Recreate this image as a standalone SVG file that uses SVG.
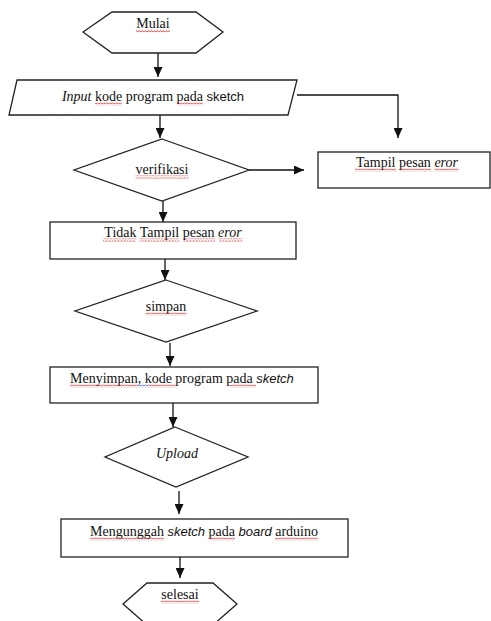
<svg xmlns="http://www.w3.org/2000/svg" width="491" height="621" viewBox="0 0 491 621">
<style>
.shape{fill:#fff;stroke:#222;stroke-width:1.3}
.conn{fill:none;stroke:#111;stroke-width:1.3}
.t{font-family:"Liberation Serif","Times New Roman",serif;font-size:14px;fill:#111}
.c{text-anchor:middle}
.i{font-style:italic}
.sans{font-family:"Liberation Sans",Arial,sans-serif;font-size:13px}
.sq{fill:url(#wv)}
.sqb{fill:url(#wvb)}
</style>
<defs>
<marker id="ah" markerUnits="userSpaceOnUse" markerWidth="10" markerHeight="9" refX="10" refY="4.5" orient="auto">
<path d="M0,0 L10,4.5 L0,9 Z" fill="#111"/>
</marker>
<pattern id="wv" patternUnits="userSpaceOnUse" width="3" height="3">
<path d="M0,2.4 L1.5,0.6 L3,2.4" fill="none" stroke="#e01818" stroke-width="0.8"/>
</pattern>
<pattern id="wvb" patternUnits="userSpaceOnUse" width="3" height="3">
<path d="M0,2.4 L1.5,0.6 L3,2.4" fill="none" stroke="#2848e0" stroke-width="0.8"/>
</pattern>
</defs>
<rect width="491" height="621" fill="#fff"/>
<g id="connectors">
<path class="conn" d="M158,53 V77" marker-end="url(#ah)"/>
<path class="conn" d="M160,115 V138" marker-end="url(#ah)"/>
<path class="conn" d="M297,95 H398 V138" marker-end="url(#ah)"/>
<path class="conn" d="M249,170 H304" marker-end="url(#ah)"/>
<path class="conn" d="M163,200 V222" marker-end="url(#ah)"/>
<path class="conn" d="M165,259 V280" marker-end="url(#ah)"/>
<path class="conn" d="M170,343 V366" marker-end="url(#ah)"/>
<path class="conn" d="M173,403 V427" marker-end="url(#ah)"/>
<path class="conn" d="M179,491 V514" marker-end="url(#ah)"/>
<path class="conn" d="M180,557 V578" marker-end="url(#ah)"/>
</g>
<g id="mulai">
<polygon class="shape" points="83,32 112,12 196,12 223,32 196,53 112,53"/>
<text class="t c" x="153" y="28">Mulai</text>
<rect class="sq" x="136" y="29.5" width="34" height="3"/>
</g>
<g id="input">
<polygon class="shape" points="17,80 297,80 288,115 9,115"/>
<text class="t c" x="153" y="101"><tspan class="i">Input</tspan> kode program pada <tspan class="sans">sketch</tspan></text>
<rect class="sq" x="95" y="102.5" width="27" height="3"/>
<rect class="sq" x="177" y="102.5" width="26" height="3"/>
</g>
<g id="verifikasi">
<polygon class="shape" points="162,139 249,170 162,201 74,170"/>
<text class="t c" x="162" y="174">verifikasi</text>
<rect class="sq" x="135.5" y="175.5" width="53" height="3"/>
</g>
<g id="tampil">
<rect class="shape" x="318" y="152" width="172" height="36"/>
<text class="t c" x="407" y="167">Tampil pesan <tspan class="i">eror</tspan></text>
<rect class="sq" x="355" y="168.5" width="41" height="3"/>
<rect class="sq" x="399" y="168.5" width="32" height="3"/>
<rect class="sq" x="434.5" y="168.5" width="24" height="3"/>
</g>
<g id="tidak">
<rect class="shape" x="50" y="222" width="246" height="37"/>
<text class="t c" x="173" y="237">Tidak Tampil pesan <tspan class="i">eror</tspan></text>
<rect class="sq" x="103" y="238.5" width="33" height="3"/>
<rect class="sq" x="139.5" y="238.5" width="40" height="3"/>
<rect class="sq" x="183" y="238.5" width="32" height="3"/>
<rect class="sq" x="218.5" y="238.5" width="24" height="3"/>
</g>
<g id="simpan">
<polygon class="shape" points="166,280 257,311 166,342 75,311"/>
<text class="t c" x="166" y="311">simpan</text>
<rect class="sq" x="145.5" y="312.5" width="41" height="3"/>
</g>
<g id="menyimpan">
<rect class="shape" x="50" y="367" width="268" height="36"/>
<text class="t" x="70" y="383">Menyimpan,  kode program pada <tspan class="sans i">sketch</tspan></text>
<rect class="sq" x="70" y="384.5" width="67.5" height="3"/>
<rect class="sqb" x="137.5" y="384.5" width="10.5" height="3"/>
<rect class="sq" x="148" y="384.5" width="27.5" height="3"/>
<rect class="sq" x="230" y="384.5" width="26" height="3"/>
</g>
<g id="upload">
<polygon class="shape" points="175,427 248,457 176,487 105,457"/>
<text class="t c i" x="177" y="458">Upload</text>
</g>
<g id="mengunggah">
<rect class="shape" x="61" y="519" width="287" height="38"/>
<text class="t c" x="204" y="536">Mengunggah <tspan class="sans i">sketch</tspan> pada <tspan class="sans i">board</tspan> arduino</text>
<rect class="sq" x="90" y="537.5" width="74" height="3"/>
<rect class="sq" x="208.5" y="537.5" width="26.5" height="3"/>
<rect class="sq" x="275" y="537.5" width="43" height="3"/>
</g>
<g id="selesai">
<polygon class="shape" points="123,604 147,583 213,583 237,604 213,625 147,625"/>
<text class="t c" x="180" y="599">selesai</text>
<rect class="sq" x="161" y="600.5" width="38" height="3"/>
</g>
</svg>
